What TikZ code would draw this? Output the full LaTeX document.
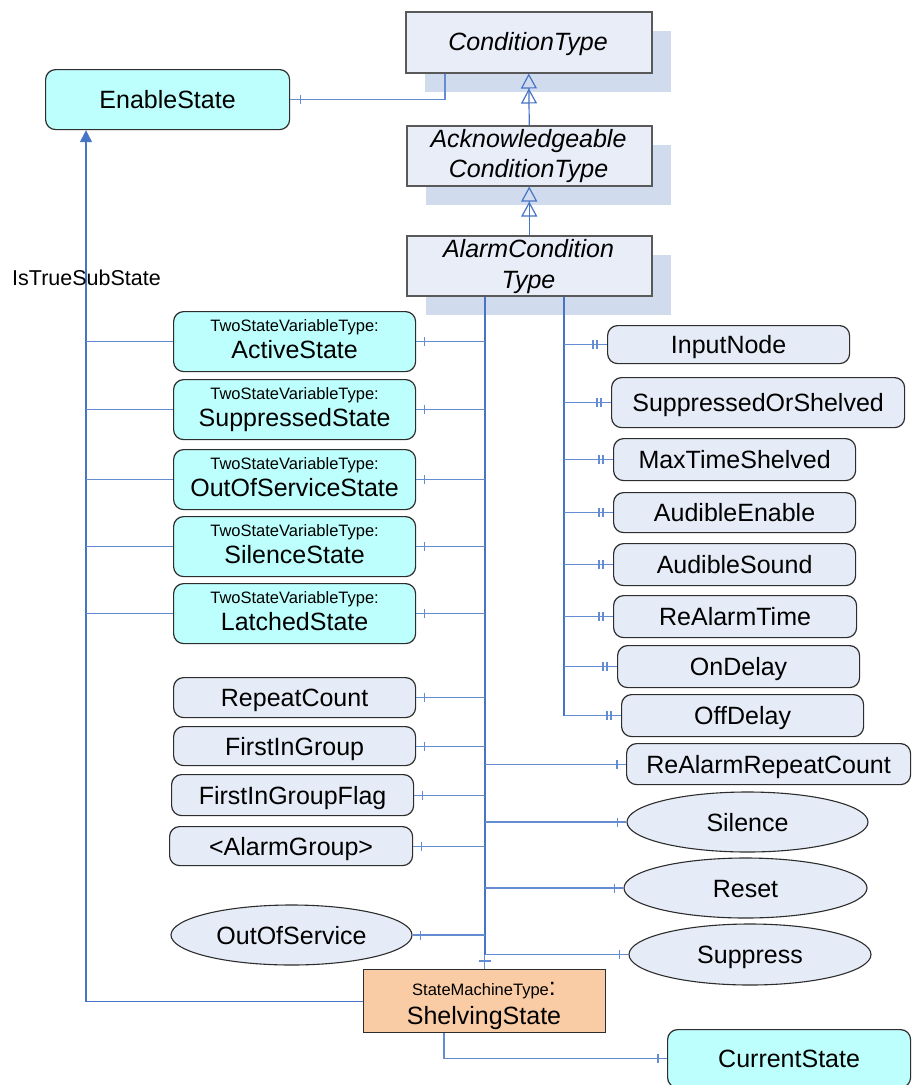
\documentclass[tikz,border=0pt]{standalone}
\usepackage{fontspec}
\setmainfont{Liberation Sans}
\usetikzlibrary{arrows.meta,shapes.geometric,shadows,calc}
\definecolor{aqua}{RGB}{188,255,252}
\definecolor{prop}{RGB}{230,236,247}
\definecolor{typef}{RGB}{233,237,248}
\definecolor{shad}{RGB}{208,220,238}
\definecolor{peach}{RGB}{249,204,165}
\definecolor{lnk}{RGB}{72,116,198}
\definecolor{lnkl}{RGB}{100,140,210}
\definecolor{bord}{RGB}{45,45,45}
\tikzset{
  bigf/.style={font=\fontsize{25}{30}\selectfont},
  big/.style={bigf, text height=18pt, text depth=0pt},
  sml/.style={font=\fontsize{16.5}{20}\selectfont},
  ital/.style={font=\fontsize{25}{30}\selectfont\itshape},
  lbl/.style={inner sep=0pt},
  boxbase/.style={draw=bord, line width=1.2pt, inner sep=0pt, anchor=north west, big},
  statebox/.style={boxbase, rounded corners=10pt, fill=aqua},
  propbox/.style={boxbase, rounded corners=10pt, fill=prop},
  methodell/.style={ellipse, draw=bord, line width=1.1pt, fill=prop, inner sep=0pt, big},
  typebox/.style={draw=black!65, line width=1.5pt, fill=typef, inner sep=0pt, anchor=north west,
     general shadow={fill=shad, shadow xshift=19pt, shadow yshift=-19pt}},
  conn/.style={draw=lnkl, line width=1.15pt},
  trunk/.style={draw=lnk, line width=2pt},
  gen/.style={draw=lnk, line width=1.2pt,
     -{Triangle[open,length=15pt,width=16pt,sep=0pt]Triangle[open,length=15pt,width=16pt]}},
}
\newcommand\tickH[2]{\draw[conn] ($(#1)+(#2,-4.5)$) -- ($(#1)+(#2,4.5)$);}
\newcommand\tickD[2]{\tickH{#1}{#2}\tickH{#1}{#2-4}}
\begin{document}
\begin{tikzpicture}[x=1pt,y=-1pt]
\fill[white] (0,0) rectangle (912,1085);
\useasboundingbox (0,0) rectangle (912,1085);

% type hierarchy
\node[typebox, minimum width=246pt, minimum height=61pt] (cond) at (405,11) {};
\node[typebox, minimum width=245pt, minimum height=60pt] (ack) at (406,125) {};
\node[typebox, minimum width=245pt, minimum height=60pt] (alarm) at (406,235) {};
\node[ital, lbl, anchor=base] (condT) at (528,50) {ConditionType};
\node[ital, lbl, anchor=base] (ackT1) at (528.5,147) {Acknowledgeable};
\node[ital, lbl, anchor=base] (ackT2) at (528.5,177) {ConditionType};
\node[ital, lbl, anchor=base] (alarmT1) at (528.5,257) {AlarmCondition};
\node[ital, lbl, anchor=base] (alarmT2) at (528.5,288) {Type};

% EnableState
\node[statebox, minimum width=244pt, minimum height=60pt] (enable) at (45,69) {EnableState};

% TwoStateVariableType boxes
\foreach \n/\t/\y in {active/ActiveState/311, suppr/SuppressedState/379, oos/OutOfServiceState/449,
                      silst/SilenceState/516, latched/LatchedState/583}{
  \node[statebox, minimum width=242pt, minimum height=60pt] (\n) at (173,\y) {};
  \node[sml, lbl, anchor=base] (\n S) at ($(\n.north)+(0,20.5)$) {TwoStateVariableType:};
  \node[bigf, lbl, anchor=base] (\n N) at ($(\n.north)+(0,47.5)$) {\t};
}

% left property boxes
\node[propbox, minimum width=242pt, minimum height=40pt] (repeat) at (173,677) {RepeatCount};
\node[propbox, minimum width=242pt, minimum height=39pt] (fig) at (173,726) {FirstInGroup};
\node[propbox, minimum width=242pt, minimum height=41pt] (figf) at (171,774) {FirstInGroupFlag};
\node[propbox, minimum width=243pt, minimum height=39pt] (agroup) at (169,826) {<AlarmGroup>};
\node[methodell, minimum width=241pt, minimum height=60pt] (oosm) at (291.5,935) {OutOfService};

% right property boxes
\node[propbox, minimum width=242pt, minimum height=38pt] (inputnode) at (607,325) {InputNode};
\node[propbox, minimum width=293pt, minimum height=50pt] (sos) at (611,377) {SuppressedOrShelved};
\node[propbox, minimum width=242pt, minimum height=42pt] (mts) at (613,438) {MaxTimeShelved};
\node[propbox, minimum width=242pt, minimum height=40pt] (aen) at (613,492) {AudibleEnable};
\node[propbox, minimum width=242pt, minimum height=42pt] (asnd) at (613,543) {AudibleSound};
\node[propbox, minimum width=243pt, minimum height=42pt] (rat) at (613,595) {ReAlarmTime};
\node[propbox, minimum width=242pt, minimum height=42pt] (ond) at (617,645) {OnDelay};
\node[propbox, minimum width=242pt, minimum height=42pt] (offd) at (621,694) {OffDelay};
\node[propbox, minimum width=284pt, minimum height=41pt] (rarc) at (626,743) {ReAlarmRepeatCount};
\node[methodell, minimum width=241pt, minimum height=60pt] (silence) at (747.5,822) {Silence};
\node[methodell, minimum width=243pt, minimum height=60pt] (reset) at (745.5,888) {Reset};
\node[methodell, minimum width=242pt, minimum height=61pt] (suppress) at (750,954.5) {Suppress};

% ShelvingState and CurrentState
\node[draw=bord, line width=1.2pt, fill=peach, anchor=north west, inner sep=0pt,
      minimum width=242pt, minimum height=63pt] (shelving) at (363,969) {};
\node[lbl, anchor=base] (shelvingS) at (484,995)
  {\fontsize{16.5}{20}\selectfont StateMachineType\fontsize{25}{30}\selectfont:};
\node[bigf, lbl, anchor=base] (shelvingN) at (484,1024) {ShelvingState};
\node[statebox, minimum width=243pt, minimum height=58pt] (current) at (667,1029) {CurrentState};

% generalizations
\draw[gen] (ack.north) -- (cond.south);
\draw[gen] (alarm.north) -- (ack.south);

% ConditionType -- EnableState
\coordinate (ces) at ($(cond.south west)+(40,0)$);
\draw[conn] (ces) |- (enable.east);
\tickH{enable.east}{10}

% IsTrueSubState
\coordinate (ist) at ($(enable.south west)+(41,0)$);
\draw[draw=lnk, line width=1.2pt, -{Triangle[length=12pt,width=12pt]}] (shelving.west) -| (ist);
\foreach \n in {active,suppr,oos,silst,latched}{
  \draw[conn] (ist |- \n.west) -- (\n.west);
}
\node[lbl, anchor=base west, font=\fontsize{21.5}{26}\selectfont] (istT) at (12,285.5) {IsTrueSubState};

% trunks
\coordinate (aL) at (shelving.north |- alarm.south);
\coordinate (aR) at ($(alarm.south)+(35,0)$);
\draw[trunk] (aL) -- (aL |- suppress.west);
\draw[conn] (aL |- suppress.west) -- (shelving.north);
\draw[conn] ($(shelving.north)+(-6,-8)$) -- ($(shelving.north)+(6,-8)$);
\draw[trunk] (aR) -- (aR |- offd.west);

% left branches
\foreach \n in {active,suppr,oos,silst,latched,repeat,fig,figf,agroup,oosm}{
  \draw[conn] (\n.east) -- (aL |- \n.east);
  \tickH{\n.east}{8}
}
% right branches (double ticks)
\foreach \n in {inputnode,sos,mts,aen,asnd,rat,ond,offd}{
  \draw[conn] (aR |- \n.west) -- (\n.west);
  \tickD{\n.west}{-10}
}
% right branches from main trunk
\foreach \n in {rarc,silence,reset,suppress}{
  \draw[conn] (aL |- \n.west) -- (\n.west);
  \tickH{\n.west}{-9}
}

% ShelvingState -- CurrentState
\coordinate (sb) at ($(shelving.south west)+(81,0)$);
\draw[conn] (sb) |- (current.west);
\tickH{current.west}{-9}
\end{tikzpicture}
\end{document}
